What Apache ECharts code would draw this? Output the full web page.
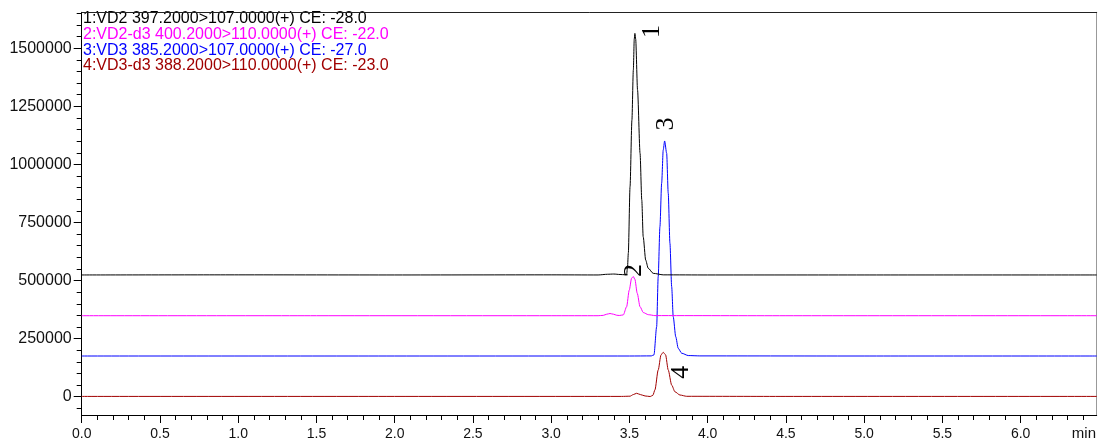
<!DOCTYPE html>
<html><head><meta charset="utf-8">
<script src="https://cdn.jsdelivr.net/npm/echarts@6/dist/echarts.min.js"></script>
<style>html,body{margin:0;padding:0;background:#fff}#c{width:1098px;height:439px}</style>
</head><body><div id="c"></div>
<script>
// ---- data ----
const seriesNames = [
  '1:VD2 397.2000>107.0000(+) CE: -28.0',
  '2:VD2-d3 400.2000>110.0000(+) CE: -22.0',
  '3:VD3 385.2000>107.0000(+) CE: -27.0',
  '4:VD3-d3 388.2000>110.0000(+) CE: -23.0'
];
const seriesColors = ['#000000', '#ff00ff', '#0000ff', '#a00000'];

const vd2 = [[0,524000],[1.0,524500],[2.0,524000],[3.0,524500],[3.30,524000],[3.36,527000],[3.40,528000],[3.44,526000],[3.47,525000],[3.482,524500],[3.488,560000],[3.493,618000],[3.504,904000],[3.516,1191000],[3.525,1406000],[3.531,1540000],[3.535,1564000],[3.540,1540000],[3.552,1320000],[3.568,1048000],[3.579,847000],[3.588,689000],[3.604,588000],[3.620,553000],[3.652,531000],[3.716,524500],[4.0,524000],[5.0,524000],[6.486,524000]];

const vd2d3 = [[0,348500],[1.5,348500],[3.0,348500],[3.30,348500],[3.333,350000],[3.355,355000],[3.376,358000],[3.398,355000],[3.419,350500],[3.435,349500],[3.461,352000],[3.482,387000],[3.499,459000],[3.514,510000],[3.525,517000],[3.535,505000],[3.550,445000],[3.568,387000],[3.589,362000],[3.621,353000],[3.663,349000],[4.5,348500],[6.486,348500]];

const vd3 = [[0,175000],[2.0,175000],[3.5,175000],[3.640,175500],[3.657,180000],[3.674,301000],[3.684,517000],[3.695,732000],[3.706,919000],[3.716,1062000],[3.725,1101000],[3.738,1048000],[3.748,876000],[3.759,660000],[3.770,474000],[3.780,344000],[3.796,258000],[3.812,208000],[3.834,187000],[3.876,177000],[3.95,175500],[5.0,175000],[6.486,175000]];

const vd3d3 = [[0,1000],[2.0,1000],[3.45,1000],[3.504,2000],[3.525,9000],[3.546,14500],[3.570,9000],[3.600,3000],[3.633,500],[3.650,6000],[3.663,29000],[3.684,115000],[3.702,180000],[3.716,191000],[3.731,180000],[3.748,115000],[3.770,50000],[3.791,21000],[3.823,7000],[3.866,1500],[4.5,1000],[6.486,1000]];

const peakLabels = ['1', '2', '3', '4'];
const peakCoords = [[3.535,1564000],[3.525,517000],[3.725,1101000],[3.716,191000]];

const xTickLabels = [0,0.5,1.0,1.5,2.0,2.5,3.0,3.5,4.0,4.5,5.0,5.5,6.0];
const yTickLabels = [0,250000,500000,750000,1000000,1250000,1500000];
const xUnit = 'min';

// ---- layout / style ----
const X_MIN = 0, X_MAX = 6.486, Y_MIN = -79000, Y_MAX = 1655000;
const xMinor = []; for (let i = 0; i <= 64; i++) xMinor.push(+(i * 0.1).toFixed(1));
const yMinor = []; for (let v = -50000; v <= 1650000; v += 50000) yMinor.push(v);
// offsets are given in the rotated label frame: [-screenDy, screenDx]
const labelOffsets = [[2,17],[6,1],[17,2],[-20,18]];
const sans = '"Liberation Sans", Arial, sans-serif';
const traces = [vd2, vd2d3, vd3, vd3d3];
const clear = 'rgba(0,0,0,0)';
const rect = {left: 81.7, right: 1.3, top: 12.3, bottom: 24, containLabel: false, outerBoundsMode: 'none'};

const chart = echarts.init(document.getElementById('c'), null, {renderer: 'canvas'});
const base = {type: 'value', min: X_MIN, max: X_MAX, splitLine: {show: false}};
const ybase = {type: 'value', min: Y_MIN, max: Y_MAX, splitLine: {show: false}};
chart.setOption({
  animation: false,
  backgroundColor: '#fff',
  grid: [Object.assign({}, rect), Object.assign({}, rect)],
  xAxis: [
    Object.assign({}, base, {gridIndex: 0, position: 'bottom',
      axisLine: {show: true, onZero: false, lineStyle: {color: '#000', width: 1}},
      axisTick: {show: true, length: 8, customValues: xTickLabels, lineStyle: {color: '#000'}},
      axisLabel: {show: true, customValues: xTickLabels, margin: 12, color: '#111',
        fontFamily: sans, fontSize: 14,
        formatter: v => v.toFixed(1)}}),
    Object.assign({}, base, {gridIndex: 0, position: 'top',
      axisLine: {show: true, onZero: false, lineStyle: {color: '#222', width: 1}},
      axisTick: {show: false}, axisLabel: {show: false}}),
    // minor ticks, in an identical second grid whose y range excludes zero
    Object.assign({}, base, {gridIndex: 1, position: 'bottom',
      axisLine: {show: false, onZero: false},
      axisTick: {show: true, length: 5, customValues: xMinor, lineStyle: {color: '#000'}},
      axisLabel: {show: false}})
  ],
  yAxis: [
    Object.assign({}, ybase, {gridIndex: 0, position: 'left',
      axisLine: {show: true, onZero: false, lineStyle: {color: '#000', width: 1}},
      axisTick: {show: true, length: 8, customValues: yTickLabels, lineStyle: {color: '#000'}},
      axisLabel: {show: true, customValues: yTickLabels, margin: 10, color: '#111',
        fontFamily: sans, fontSize: 16, formatter: v => String(v)}}),
    Object.assign({}, ybase, {gridIndex: 0, position: 'right',
      axisLine: {show: true, onZero: false, lineStyle: {color: '#999', width: 1}},
      axisTick: {show: false}, axisLabel: {show: false}}),
    Object.assign({}, ybase, {gridIndex: 0, position: 'left',
      axisLine: {show: false, onZero: false},
      axisTick: {show: true, length: 5, customValues: yMinor, lineStyle: {color: '#000'}},
      axisLabel: {show: false}}),
    {type: 'value', gridIndex: 1, min: 1, max: 2, show: false}
  ],
  series: traces.map((d, i) => ({
    type: 'line', name: seriesNames[i], data: d, xAxisIndex: 0, yAxisIndex: 0,
    showSymbol: false, symbol: 'none', smooth: 0.25, smoothMonotone: 'x',
    lineStyle: {color: seriesColors[i], width: 1}, itemStyle: {color: seriesColors[i]},
    z: 10 - i,
    markPoint: {
      symbol: 'circle', symbolSize: 1, itemStyle: {color: clear},
      silent: true,
      data: [{name: peakLabels[i], coord: peakCoords[i],
        label: {show: true, position: 'inside', formatter: '{b}', rotate: 90,
          offset: labelOffsets[i], color: '#000', fontSize: 26,
          fontFamily: '"Liberation Serif", "Times New Roman", serif'}}]
    }
  })),
  graphic: seriesNames.map((t, i) => ({
    type: 'text', silent: true, x: 83, y: [19, 35, 50.5, 66][i],
    style: {text: t, fill: seriesColors[i], font: '16px ' + sans, verticalAlign: 'middle'}
  })).concat([{
    type: 'text', silent: true, x: 1096, y: 434,
    style: {text: xUnit, fill: '#111', font: '15px ' + sans, align: 'right', verticalAlign: 'middle'}
  }])
});
</script></body></html>
